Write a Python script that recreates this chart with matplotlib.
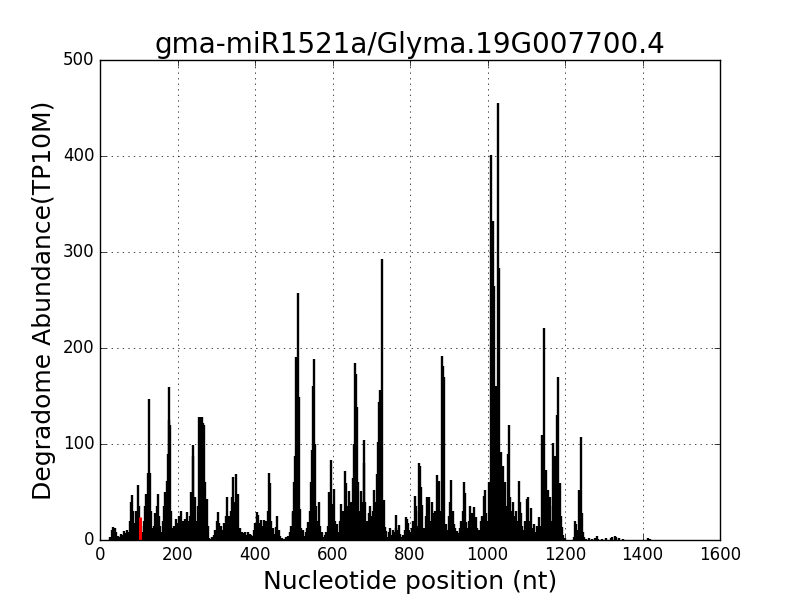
import matplotlib
matplotlib.use('Agg')
import matplotlib.pyplot as plt

# degradome reads along the transcript (position nt, abundance TP10M)
positions = [25, 30, 34, 38, 42, 46, 50, 54, 58, 62, 66, 70, 74, 78, 80, 83, 86, 90, 94, 99,
             101, 106, 110, 113, 116, 119, 122, 125, 127, 129, 131, 134, 137, 140, 142, 145, 148, 150, 153, 156,
             159, 162, 165, 168, 172, 175, 177, 179, 181, 183, 186, 189, 192, 195, 198, 201, 204, 207, 210, 213,
             216, 220, 224, 227, 230, 233, 236, 239, 241, 244, 247, 250, 253, 255, 258, 262, 265, 268, 271, 275,
             278, 280, 285, 290, 294, 298, 302, 305, 308, 312, 315, 318, 321, 324, 327, 330, 333, 335, 338, 341,
             344, 347, 351, 354, 357, 360, 363, 366, 370, 374, 378, 382, 386, 390, 394, 398, 401, 404, 407, 410,
             413, 416, 419, 422, 425, 428, 431, 434, 436, 438, 441, 444, 447, 450, 454, 458, 461, 465, 470, 475,
             480, 485, 490, 494, 497, 499, 501, 503, 506, 509, 512, 514, 516, 519, 522, 525, 528, 531, 535, 538,
             541, 544, 546, 549, 553, 555, 557, 560, 563, 566, 569, 572, 576, 580, 584, 588, 592, 595, 598, 600,
             603, 606, 609, 612, 615, 619, 622, 625, 628, 631, 634, 637, 640, 643, 646, 649, 652, 655, 658, 660,
             663, 666, 669, 673, 676, 680, 682, 685, 688, 692, 695, 698, 701, 704, 707, 711, 714, 717, 720, 723,
             726, 729, 732, 735, 738, 741, 745, 749, 752, 756, 760, 763, 765, 768, 771, 774, 778, 782, 786, 789,
             792, 795, 798, 801, 804, 808, 811, 813, 816, 819, 822, 824, 826, 829, 832, 835, 838, 841, 845, 848,
             851, 854, 856, 859, 862, 865, 869, 872, 875, 878, 882, 885, 889, 891, 894, 897, 900, 904, 907, 910,
             914, 917, 920, 924, 928, 932, 936, 940, 942, 945, 948, 952, 956, 959, 963, 966, 970, 974, 978, 982,
             986, 991, 993, 996, 999, 1002, 1005, 1008, 1011, 1015, 1018, 1020, 1022, 1024, 1027, 1030, 1033, 1036, 1039, 1042,
             1045, 1048, 1052, 1055, 1057, 1060, 1063, 1066, 1070, 1074, 1077, 1080, 1083, 1086, 1090, 1094, 1097, 1101, 1104, 1108,
             1112, 1116, 1120, 1124, 1128, 1131, 1134, 1137, 1140, 1143, 1147, 1150, 1153, 1156, 1159, 1162, 1165, 1168, 1170, 1173,
             1176, 1180, 1183, 1186, 1189, 1192, 1195, 1199, 1222, 1226, 1229, 1233, 1237, 1240, 1243, 1246, 1250, 1255, 1262, 1270,
             1278, 1282, 1286, 1295, 1305, 1318, 1322, 1328, 1332, 1340, 1350, 1415, 1420]
abundance = [3, 10, 14, 12, 8, 4, 3, 6, 5, 9, 7, 10, 8, 20, 40, 47, 30, 18, 30, 57,
             35, 15, 8, 20, 35, 48, 40, 70, 147, 70, 30, 12, 5, 15, 28, 20, 35, 48, 25, 15,
             8, 20, 35, 50, 61, 90, 125, 159, 120, 30, 12, 8, 15, 22, 18, 12, 25, 18, 30, 20,
             12, 22, 29, 20, 15, 25, 50, 99, 87, 45, 20, 12, 35, 128, 128, 128, 122, 120, 60, 43,
             15, 2, 1, 3, 5, 10, 20, 29, 18, 15, 8, 10, 18, 25, 45, 20, 25, 16, 30, 45,
             66, 40, 69, 35, 48, 12, 6, 8, 7, 8, 5, 8, 6, 5, 4, 10, 18, 29, 26, 12,
             18, 21, 15, 21, 12, 20, 10, 30, 70, 59, 20, 8, 12, 6, 14, 25, 10, 4, 2, 1,
             3, 4, 8, 15, 28, 30, 60, 87, 191, 120, 257, 149, 32, 12, 6, 10, 4, 8, 12, 19,
             30, 60, 94, 160, 189, 100, 35, 20, 12, 40, 15, 8, 3, 5, 8, 15, 50, 83, 25, 38,
             53, 20, 12, 17, 8, 20, 37, 15, 30, 72, 59, 25, 35, 51, 20, 40, 65, 100, 184, 173,
             139, 60, 30, 51, 40, 104, 80, 40, 20, 15, 28, 35, 25, 30, 52, 40, 69, 102, 144, 156,
             100, 293, 42, 14, 9, 3, 8, 12, 5, 10, 8, 12, 26, 10, 16, 6, 3, 5, 10, 24,
             22, 18, 10, 8, 12, 20, 10, 46, 35, 15, 30, 80, 77, 55, 36, 12, 10, 25, 45, 45,
             20, 12, 40, 28, 15, 30, 68, 56, 61, 30, 192, 181, 170, 14, 17, 10, 25, 40, 63, 30,
             17, 12, 9, 7, 12, 20, 30, 60, 49, 19, 12, 20, 35, 28, 15, 34, 24, 12, 10, 20,
             25, 46, 52, 28, 10, 20, 60, 401, 200, 332, 265, 150, 160, 155, 455, 283, 60, 92, 77, 50,
             60, 35, 90, 120, 45, 30, 20, 40, 25, 30, 20, 61, 40, 28, 15, 10, 20, 43, 45, 20,
             33, 12, 17, 8, 15, 10, 24, 15, 109, 109, 221, 73, 30, 52, 25, 45, 20, 35, 101, 87,
             40, 130, 170, 59, 25, 14, 5, 2, 3, 20, 17, 10, 52, 107, 28, 8, 3, 1, 2, 1,
             2, 4, 1, 1, 2, 2, 3, 4, 3, 2, 1, 2, 1]

# predicted cleavage site
site_pos = [103]
site_abund = [24]

plt.style.use('classic')
fig = plt.figure(figsize=(8, 6), dpi=100, facecolor='white')
ax = fig.add_subplot(111)
fig.subplots_adjust(left=0.125, right=0.9, bottom=0.1, top=0.9)

ax.vlines(positions, 0, abundance, color='black', linewidth=1.7)
ax.vlines(site_pos, 0, site_abund, color='red', linewidth=2.2)

ax.set_xlim(0, 1600)
ax.set_ylim(0, 500)
ax.grid(True)
ax.set_title('gma-miR1521a/Glyma.19G007700.4', fontsize=20)
ax.set_xlabel('Nucleotide position (nt)', fontsize=18)
ax.set_ylabel('Degradome Abundance(TP10M)', fontsize=18)

fig.savefig('out.png', dpi=100, facecolor='white')
